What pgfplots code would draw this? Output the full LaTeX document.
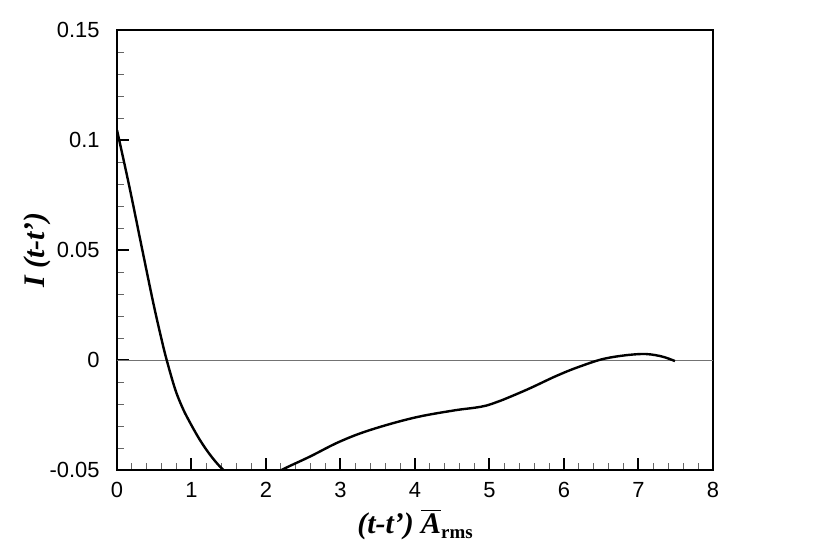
\documentclass[border=0pt]{standalone}
\usepackage{fontspec}
\setmainfont{Liberation Serif}
\newfontfamily\arial{Liberation Sans}
\usepackage{pgfplots}
\pgfplotsset{compat=1.18}
\begin{document}
\begin{tikzpicture}
\begin{axis}[
  at={(0,0)}, anchor=south west,
  scale only axis, width=298bp, height=220bp,
  xmin=0, xmax=8, ymin=-0.05, ymax=0.15,
  xtick={0,1,2,3,4,5,6,7,8},
  xticklabels={0,1,2,3,4,5,6,7,8},
  ytick={-0.05,0,0.05,0.1,0.15},
  yticklabels={-0.05,0,0.05,0.1,0.15},
  minor x tick num=4, minor y tick num=4,
  tick pos=left, tick align=inside,
  major tick length=6bp, minor tick length=3.5bp,
  major tick style={line width=1bp, black},
  minor tick style={line width=0.5bp, black!60},
  axis line style={line width=1.3bp},
  tick label style={font=\arial\fontsize{11}{13}\selectfont, inner sep=0pt},
  xticklabel style={anchor=north, yshift=-6bp},
  yticklabel style={anchor=east, xshift=-8.5bp},
  xlabel={\fontsize{15}{17}\selectfont\bfseries\itshape (t-t’) $\overline{\mbox{\bfseries\itshape A}}$\raisebox{-0.4ex}{\fontsize{9.5}{10}\selectfont\bfseries\upshape rms}},
  ylabel={\fontsize{15}{17}\selectfont\bfseries\itshape I (t-t’)},
  xlabel style={at={([yshift=-31.5bp]axis description cs:0.5,0)}, anchor=base},
  ylabel style={at={([xshift=-36bp]axis description cs:0,0.5)}, anchor=base, rotate=0},
]
\addplot[black!55, line width=0.5bp] coordinates {(0,0) (8,0)};
\addplot[black, line width=1.2bp, smooth, tension=0.6] coordinates {
(0,0.1045) (0.166,0.0788) (0.34,0.0500) (0.488,0.0258) (0.60,0.0091)
(0.667,0) (0.778,-0.0130) (0.87,-0.0210) (0.957,-0.0270) (1.114,-0.0364)
(1.27,-0.0440) (1.427,-0.0500) (1.6,-0.0548) (1.8,-0.0565) (2.0,-0.0545)
(2.21,-0.0500) (2.59,-0.0439) (2.99,-0.0371) (3.40,-0.0318) (3.98,-0.0263)
(4.51,-0.0230) (4.80,-0.0217) (4.96,-0.0207) (5.10,-0.0191) (5.23,-0.0174)
(5.54,-0.0129) (5.90,-0.0072) (6.21,-0.0030) (6.57,0.0008) (7.02,0.0027)
(7.29,0.0018) (7.49,-0.0005)
};
\end{axis}
\pgfresetboundingbox
\useasboundingbox (-58.5bp,-42.5bp) rectangle (356.5bp,235bp);
\end{tikzpicture}
\end{document}
